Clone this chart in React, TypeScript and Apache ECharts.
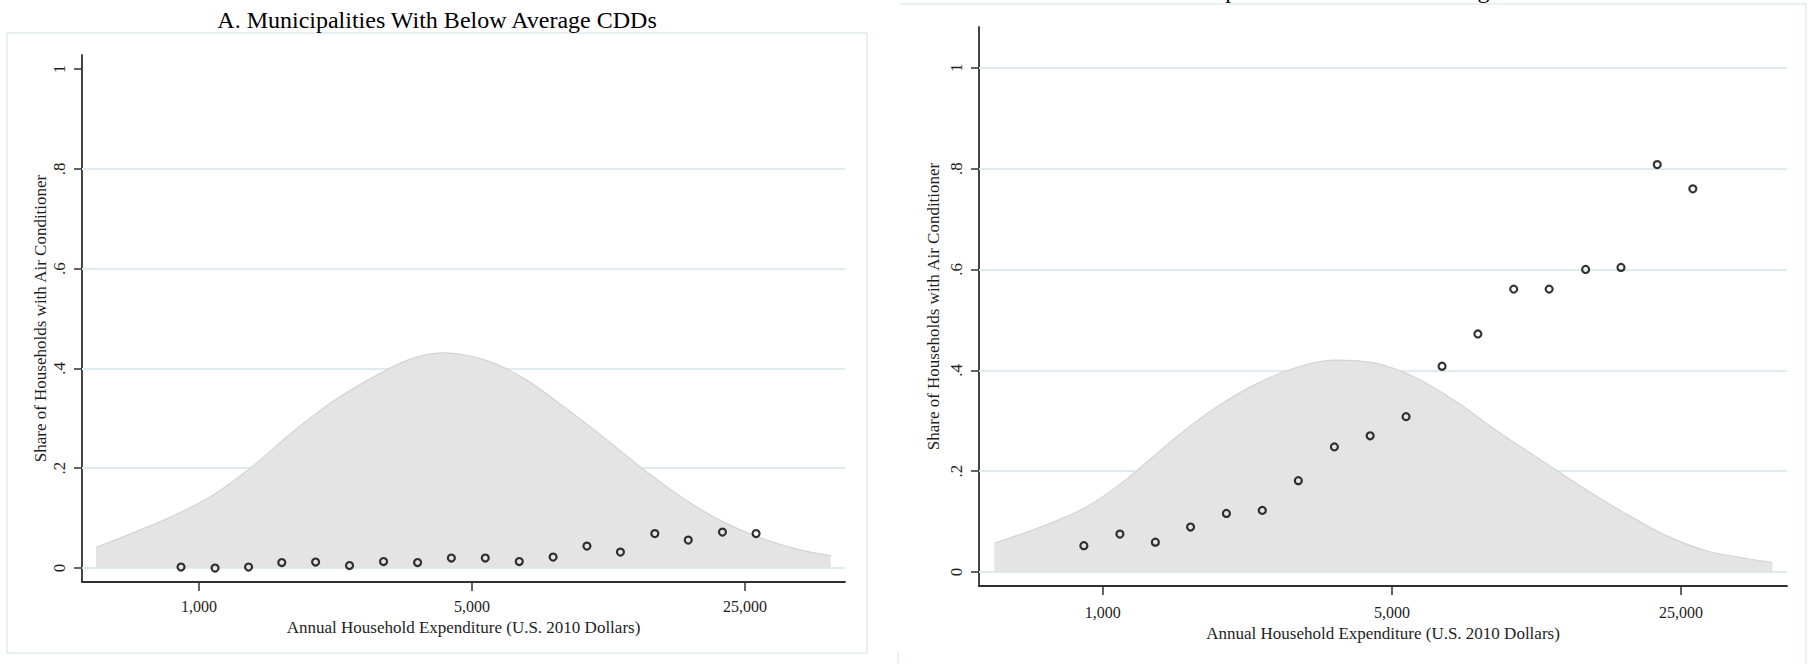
import React, { useEffect, useRef } from "react";
import * as echarts from "echarts";

// ---- data ----
const binExpenditure = [900, 1100, 1340, 1630, 1990, 2430, 2970, 3630, 4430, 5410, 6610, 8070, 9850, 12000, 14700, 17900, 21900, 26700];
const shareBelow = [0.002, 0.0, 0.002, 0.011, 0.012, 0.005, 0.013, 0.011, 0.02, 0.02, 0.013, 0.022, 0.044, 0.032, 0.069, 0.056, 0.072, 0.069];
const shareAbove = [0.052, 0.075, 0.059, 0.089, 0.116, 0.122, 0.181, 0.248, 0.27, 0.308, 0.408, 0.472, 0.561, 0.561, 0.6, 0.604, 0.808, 0.76];

const densityBelowX = [545, 686, 863, 1086, 1368, 1722, 2168, 2729, 3436, 4217, 5445, 6855, 8630, 10864, 13677, 17219, 21677, 27290, 34356, 41495];
const densityBelowY = [0.041, 0.072, 0.105, 0.146, 0.203, 0.27, 0.33, 0.378, 0.417, 0.431, 0.416, 0.378, 0.322, 0.262, 0.199, 0.142, 0.095, 0.061, 0.037, 0.025];

const densityAboveX = [547, 723, 910, 1146, 1443, 1817, 2287, 2879, 3624, 4562, 5744, 7231, 9104, 11460, 14427, 18163, 22866, 28787, 36240, 41591];
const densityAboveY = [0.057, 0.092, 0.128, 0.185, 0.255, 0.318, 0.368, 0.403, 0.42, 0.414, 0.384, 0.335, 0.276, 0.222, 0.168, 0.118, 0.073, 0.042, 0.026, 0.0185];

const xTickValues = [1000, 5000, 25000];
const yTickValues = [0, 0.2, 0.4, 0.6, 0.8, 1];
const gridLinesBelow = [0, 0.2, 0.4, 0.6, 0.8];
const gridLinesAbove = [0, 0.2, 0.4, 0.6, 0.8, 1];

const X_MIN = 502;
const X_MAX = 45100;

const titleBelow = "A. Municipalities With Below Average CDDs";
const titleAbove = "B. Municipalities With Above Average CDDs";
const xTitle = "Annual Household Expenditure (U.S. 2010 Dollars)";
const yTitle = "Share of Households with Air Conditioner";

const FONT = "'Liberation Serif', 'Times New Roman', serif";
const AXIS = "#303030";
const TEXT = "#1e1e1e";
const FRAME = "#dfecee";

const lg = (v: number) => Math.log10(v);

function makeXAxis(gridIndex: number, labelMargin: number, nameGap: number) {
  return {
    type: "value",
    gridIndex,
    min: lg(X_MIN),
    max: lg(X_MAX),
    name: xTitle,
    nameLocation: "middle",
    nameGap,
    nameTextStyle: { fontFamily: FONT, fontSize: 17, color: TEXT },
    axisLine: { show: true, onZero: false, lineStyle: { color: AXIS, width: 1.8 } },
    axisTick: { show: true, length: 9, customValues: xTickValues.map(lg), lineStyle: { color: AXIS, width: 1.5 } },
    axisLabel: {
      show: true,
      customValues: xTickValues.map(lg),
      margin: labelMargin,
      fontFamily: FONT,
      fontSize: 16,
      color: TEXT,
      formatter: (v: number) => Math.round(Math.pow(10, v)).toLocaleString("en-US"),
    },
    splitLine: { show: false },
  };
}

function makeYAxis(gridIndex: number, max: number, nameGap: number) {
  return {
    type: "value",
    gridIndex,
    min: -0.028,
    max,
    name: yTitle,
    nameLocation: "middle",
    nameGap,
    nameRotate: 90,
    nameTextStyle: { fontFamily: FONT, fontSize: 17, color: TEXT },
    axisLine: { show: true, onZero: false, lineStyle: { color: AXIS, width: 1.8 } },
    axisTick: { show: true, length: 8, customValues: yTickValues, lineStyle: { color: AXIS, width: 1.5 } },
    axisLabel: {
      show: true,
      customValues: yTickValues,
      rotate: 90,
      margin: 14,
      fontFamily: FONT,
      fontSize: 17,
      color: TEXT,
      formatter: (v: number) => (v === 0 ? "0" : v === 1 ? "1" : String(v).replace(/^0/, "")),
    },
    splitLine: { show: false },
  };
}

function densitySeries(idx: number, xs: number[], ys: number[], grid: number[]) {
  return {
    type: "line",
    xAxisIndex: idx,
    yAxisIndex: idx,
    data: xs.map((x, i) => [lg(x), ys[i]]),
    symbol: "none",
    smooth: 0.3,
    silent: true,
    z: 2,
    lineStyle: { color: "#d4d4d4", width: 1.2 },
    areaStyle: { color: "#e4e4e4", opacity: 1 },
    markLine: {
      silent: true,
      symbol: "none",
      z: 1,
      label: { show: false },
      lineStyle: { color: "#ddecef", width: 1.8, type: "solid" },
      data: grid.map((v) => ({ yAxis: v })),
    },
  };
}

function pointSeries(idx: number, ys: number[]) {
  return {
    type: "scatter",
    xAxisIndex: idx,
    yAxisIndex: idx,
    data: binExpenditure.map((x, i) => [lg(x), ys[i]]),
    symbol: "circle",
    symbolSize: 7,
    z: 3,
    itemStyle: { color: "rgba(0,0,0,0)", borderColor: "#000", borderWidth: 2.2 },
  };
}

export default function App() {
  const ref = useRef<HTMLDivElement>(null);
  useEffect(() => {
    if (!ref.current) return;
    const chart = echarts.init(ref.current, undefined, { renderer: "svg" });
    chart.setOption({
      animation: false,
      backgroundColor: "#ffffff",
      grid: [
        { left: 82, top: 55, width: 763, height: 527 },
        { left: 979, top: 27, width: 808, height: 559 },
      ],
      xAxis: [makeXAxis(0, 16, 33), makeXAxis(1, 18, 36)],
      yAxis: [makeYAxis(0, 1.028, 33), makeYAxis(1, 1.081, 37)],
      series: [
        densitySeries(0, densityBelowX, densityBelowY, gridLinesBelow),
        pointSeries(0, shareBelow),
        densitySeries(1, densityAboveX, densityAboveY, gridLinesAbove),
        pointSeries(1, shareAbove),
      ],
      graphic: [
        { type: "rect", z: -10, shape: { x: 7, y: 33, width: 860, height: 620 }, style: { fill: "none", stroke: FRAME, lineWidth: 1.5 } },
        { type: "polyline", z: -10, shape: { points: [[900, 4], [1806, 4], [1806, 664]] }, style: { fill: "none", stroke: FRAME, lineWidth: 1.5 } },
        { type: "line", z: -10, shape: { x1: 898, y1: 652, x2: 898, y2: 664 }, style: { stroke: FRAME, lineWidth: 1.5 } },
        { type: "text", x: 437, y: 20, style: { text: titleBelow, font: `24px ${FONT}`, fill: "#000", align: "center", verticalAlign: "middle" } },
        { type: "text", x: 1347, y: -10, style: { text: titleAbove, font: `24px ${FONT}`, fill: "#000", align: "center", verticalAlign: "middle" } },
      ],
    });
    return () => chart.dispose();
  }, []);
  return <div ref={ref} style={{ position: "fixed", left: 0, top: 0, width: 1812, height: 664 }} />;
}
